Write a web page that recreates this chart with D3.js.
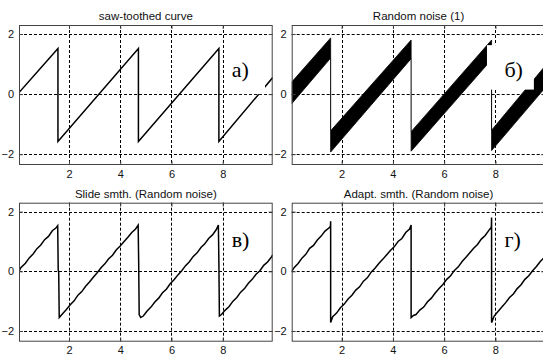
<!DOCTYPE html>
<html><head><meta charset="utf-8">
<script src="https://cdn.jsdelivr.net/npm/d3@7"></script>
<style>
html,body{margin:0;padding:0;background:#fff;overflow:hidden}
svg{display:block}
</style></head>
<body>
<svg id="c" width="543" height="356"></svg>
<script>
// ---- data ----
const titles = ["saw-toothed curve", "Random noise (1)", "Slide smth. (Random noise)", "Adapt. smth. (Random noise)"];
const panelLetters = ["а)", "б)", "в)", "г)"];
const xTicks = [2, 4, 6, 8];
const yTicks = [-2, 0, 2];

// (a) clean saw-tooth
const sawX = [0.05, 1.57, 1.57, 4.71, 4.71, 7.85, 7.85, 9.95];
const sawY = [0.05, 1.52, -1.58, 1.52, -1.58, 1.52, -1.58, 0.55];

// (б) noisy signal: band per tooth (start/end x, top edge, bottom edge)
const bandX      = [[0.05, 1.57], [1.57, 4.71], [4.71, 7.85], [7.85, 9.95]];
const bandTop    = [[0.40, 1.87], [-1.22, 1.80], [-1.25, 1.80], [-1.20, 0.95]];
const bandBottom = [[-0.32, 1.20], [-1.93, 1.18], [-1.90, 1.15], [-1.88, 0.22]];

// (в) sliding smoothing
const slideX = [0.05,0.12,0.3,0.45,0.6,0.75,0.9,1.05,1.2,1.35,1.5,1.56,1.58,1.6,1.62,
  1.75,1.9,2.05,2.2,2.35,2.5,2.65,2.8,2.95,3.1,3.25,3.4,3.55,3.7,3.85,4.0,4.15,4.3,4.45,4.6,4.7,4.72,4.74,4.8,4.9,
  5.05,5.2,5.35,5.5,5.65,5.8,5.95,6.1,6.25,6.4,6.55,6.7,6.85,7.0,7.15,7.3,7.45,7.6,7.75,7.83,7.85,7.87,7.95,
  8.1,8.25,8.4,8.55,8.7,8.85,9.0,9.15,9.3,9.45,9.6,9.75,9.9,9.95];
const slideY = [0.0,0.12,0.27,0.45,0.58,0.76,0.88,1.06,1.17,1.36,1.46,1.53,0.05,-0.05,-1.55,
  -1.42,-1.28,-1.12,-0.99,-0.8,-0.68,-0.5,-0.36,-0.2,-0.05,0.12,0.25,0.42,0.54,0.72,0.85,1.0,1.14,1.3,1.42,1.55,0.3,-1.45,-1.55,-1.5,
  -1.33,-1.2,-1.03,-0.9,-0.72,-0.6,-0.42,-0.28,-0.12,0.02,0.19,0.32,0.5,0.62,0.8,0.92,1.1,1.22,1.4,1.55,0.3,-1.5,-1.45,
  -1.3,-1.18,-1.0,-0.88,-0.7,-0.58,-0.4,-0.27,-0.1,0.02,0.2,0.31,0.48,0.55];

// (г) adaptive smoothing
const adaptX = [0.05,0.15,0.3,0.45,0.6,0.75,0.9,1.05,1.2,1.35,1.5,1.56,1.57,1.57,1.65,
  1.8,1.95,2.1,2.25,2.4,2.55,2.7,2.85,3.0,3.15,3.3,3.45,3.6,3.75,3.9,4.05,4.2,4.35,4.5,4.65,4.71,4.71,4.8,4.9,
  5.05,5.2,5.35,5.5,5.65,5.8,5.95,6.1,6.25,6.4,6.55,6.7,6.85,7.0,7.15,7.3,7.45,7.6,7.75,7.84,7.85,7.85,7.95,
  8.1,8.25,8.4,8.55,8.7,8.85,9.0,9.15,9.3,9.45,9.6,9.75,9.9,9.95];
const adaptY = [0.0,0.13,0.26,0.44,0.57,0.77,0.87,1.05,1.18,1.35,1.45,1.5,1.68,-1.72,-1.52,
  -1.4,-1.22,-1.1,-0.93,-0.8,-0.63,-0.52,-0.33,-0.22,-0.03,0.1,0.26,0.4,0.55,0.7,0.82,1.0,1.1,1.3,1.42,1.55,-1.55,-1.48,-1.45,
  -1.3,-1.2,-1.02,-0.9,-0.73,-0.58,-0.44,-0.27,-0.15,0.03,0.15,0.33,0.47,0.62,0.77,0.9,1.08,1.2,1.38,1.48,1.8,-1.72,-1.5,
  -1.35,-1.2,-1.05,-0.88,-0.76,-0.58,-0.45,-0.27,-0.15,0.02,0.16,0.33,0.46,0.55];

// ---- layout ----
const panels = [
  {x0: 19,    x1: 272.7, y0: 25,    y1: 165},
  {x0: 291.7, x1: 545.4, y0: 25,    y1: 165},
  {x0: 19,    x1: 272.7, y0: 202.7, y1: 341.7}
  ,{x0: 291.7, x1: 545.4, y0: 202.7, y1: 341.7}
];
const letterPos = [[8.35, 0.57], [8.35, 0.57], [8.35, 0.83], [8.35, 0.83]];
const letterBox = [[8.2, 9.65, 1.4, 0.0], [7.67, 9.5, 1.63, 0.15], [8.3, 9.2, 1.4, 0.6], [8.4, 9.2, 1.4, 0.6]];

const svg = d3.select("#c");
const fontSans = "Liberation Sans, Arial, sans-serif";

panels.forEach((p, i) => {
  const x = d3.scaleLinear().domain([0.05, 9.95]).range([p.x0, p.x1]);
  const y = d3.scaleLinear().domain([-2.36, 2.3]).range([p.y1, p.y0]);
  const g = svg.append("g");
  const clipId = "clip" + i;
  svg.append("clipPath").attr("id", clipId).append("rect")
    .attr("x", p.x0).attr("y", p.y0).attr("width", p.x1 - p.x0).attr("height", p.y1 - p.y0);

  // grid
  const grid = g.append("g").attr("stroke", "#000").attr("stroke-width", 1).attr("stroke-dasharray", "3,2");
  xTicks.forEach(t => grid.append("line").attr("x1", Math.round(x(t)) + 0.5).attr("x2", Math.round(x(t)) + 0.5)
    .attr("y1", p.y0).attr("y2", p.y1));
  yTicks.forEach(t => grid.append("line").attr("y1", Math.round(y(t)) + 0.5).attr("y2", Math.round(y(t)) + 0.5)
    .attr("x1", p.x0).attr("x2", p.x1));

  const plot = g.append("g").attr("clip-path", `url(#${clipId})`);
  const line = d3.line().x(d => x(d[0])).y(d => y(d[1]));

  if (i === 0) {
    plot.append("path").datum(sawX.map((v, k) => [v, sawY[k]]))
      .attr("d", line).attr("fill", "none").attr("stroke", "#000").attr("stroke-width", 1.5);
  } else if (i === 1) {
    const area = d3.area().x(d => x(d[0])).y0(d => y(d[1])).y1(d => y(d[2]));
    bandX.forEach((bx, k) => {
      plot.append("path").datum([[bx[0], bandBottom[k][0], bandTop[k][0]], [bx[1], bandBottom[k][1], bandTop[k][1]]])
        .attr("d", area).attr("fill", "#000").attr("stroke", "#000").attr("stroke-width", 0.8);
      if (k < bandX.length - 1) {
        plot.append("path").datum([[bx[1], bandBottom[k][1]], [bandX[k + 1][0], bandTop[k + 1][0]]])
          .attr("d", line).attr("stroke", "#000").attr("stroke-width", 1);
      }
    });
  } else {
    const xs = i === 2 ? slideX : adaptX, ys = i === 2 ? slideY : adaptY;
    plot.append("path").datum(xs.map((v, k) => [v, ys[k]]))
      .attr("d", line).attr("fill", "none").attr("stroke", "#000").attr("stroke-width", 1.5);
  }

  // letter label with white background
  const lb = letterBox[i];
  g.append("rect").attr("x", x(lb[0])).attr("y", y(lb[2]))
    .attr("width", x(lb[1]) - x(lb[0])).attr("height", y(lb[3]) - y(lb[2])).attr("fill", "#fff");
  g.append("text").attr("x", x(letterPos[i][0])).attr("y", y(letterPos[i][1]))
    .attr("font-family", "Liberation Serif, Times New Roman, serif").attr("font-size", 22)
    .attr("fill", "#000").text(panelLetters[i]);

  // box
  g.append("rect").attr("x", p.x0 + 0.5).attr("y", p.y0 + 0.5).attr("width", p.x1 - p.x0 - 1).attr("height", p.y1 - p.y0 - 1)
    .attr("fill", "none").attr("stroke", "#444").attr("stroke-width", 1);

  // axes (ticks inward)
  const ax = g.append("g").attr("transform", `translate(0,${p.y1})`)
    .call(d3.axisBottom(x).tickValues(xTicks).tickSize(-4).tickPadding(5).tickFormat(d3.format("d")));
  const axT = g.append("g").attr("transform", `translate(0,${p.y0})`)
    .call(d3.axisTop(x).tickValues(xTicks).tickSize(-4).tickFormat(""));
  const ay = g.append("g").attr("transform", `translate(${p.x0},0)`)
    .call(d3.axisLeft(y).tickValues(yTicks).tickSize(-4).tickPadding(5).tickFormat(d3.format("d")));
  const ayR = g.append("g").attr("transform", `translate(${p.x1},0)`)
    .call(d3.axisRight(y).tickValues(yTicks).tickSize(-4).tickFormat(""));
  [ax, axT, ay, ayR].forEach(a => {
    a.select(".domain").remove();
    a.selectAll("line").attr("stroke", "#444");
    a.selectAll("text").attr("font-family", fontSans).attr("font-size", 11).attr("fill", "#111");
  });

  // title
  g.append("text").attr("x", (p.x0 + p.x1) / 2).attr("y", p.y0 - 5)
    .attr("text-anchor", "middle").attr("font-family", fontSans).attr("font-size", 11.5)
    .attr("fill", "#111").text(titles[i]);
});
</script>
</body></html>
